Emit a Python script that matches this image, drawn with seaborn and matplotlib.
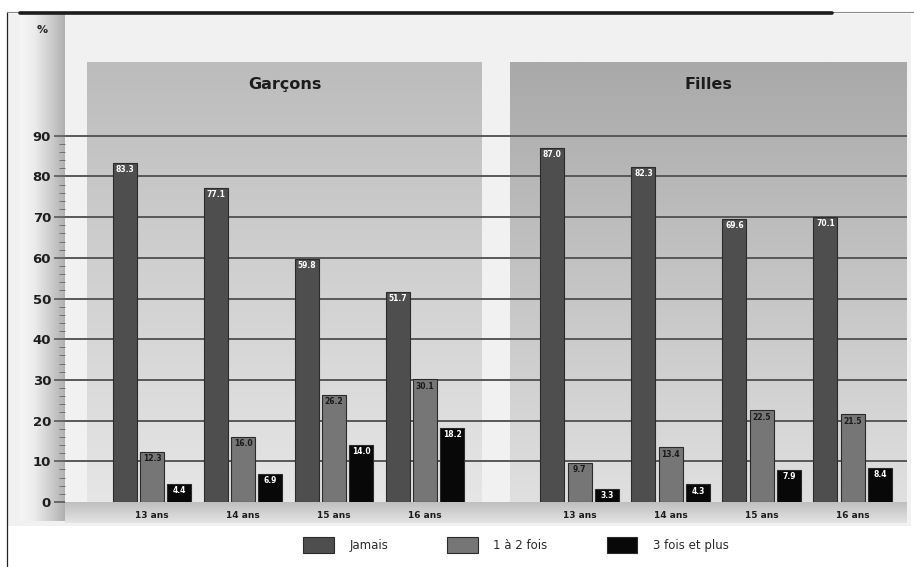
import numpy as np
import pandas as pd
import matplotlib
matplotlib.use("Agg")
import matplotlib.pyplot as plt
from matplotlib.colors import LinearSegmentedColormap
from matplotlib.lines import Line2D
import seaborn as sns

# --- data -------------------------------------------------------------
groups = ["Garçons", "Filles"]
ages = ["13 ans", "14 ans", "15 ans", "16 ans"]
frequencies = ["Jamais", "1 à 2 fois", "3 fois et plus"]

garcons_jamais = [83.3, 77.1, 59.8, 51.7]
garcons_1a2 = [12.3, 16.0, 26.2, 30.1]
garcons_3plus = [4.4, 6.9, 14.0, 18.2]

filles_jamais = [87.0, 82.3, 69.6, 70.1]
filles_1a2 = [9.7, 13.4, 22.5, 21.5]
filles_3plus = [3.3, 4.3, 7.9, 8.4]

y_ticks = [0, 10, 20, 30, 40, 50, 60, 70, 80, 90]

# --- layout / style ---------------------------------------------------
W, H = 914, 567
GROUP_GAP = 0.7
colors = {"Jamais": "#4e4e4e", "1 à 2 fois": "#767676", "3 fois et plus": "#080808"}
text_colors = {"Jamais": "white", "1 à 2 fois": "#1a1a1a", "3 fois et plus": "white"}
FONT = ["DejaVu Sans"]

series = {
    "Garçons": [garcons_jamais, garcons_1a2, garcons_3plus],
    "Filles": [filles_jamais, filles_1a2, filles_3plus],
}

rows = []
for gi, g in enumerate(groups):
    for fi, f in enumerate(frequencies):
        for ai, a in enumerate(ages):
            rows.append({"groupe": g, "age": a, "frequence": f,
                         "pos": ai + gi * (len(ages) + GROUP_GAP),
                         "pct": series[g][fi][ai]})
df = pd.DataFrame(rows)
centers = sorted(df["pos"].unique())

sns.set_theme(style="white")
plt.rcParams["font.family"] = FONT


def box(x0, y0, x1, y1):
    """Pixel box (top-left origin) -> figure fraction rect."""
    return [x0 / W, 1 - y1 / H, (x1 - x0) / W, (y1 - y0) / H]


def gradient(ax, extent, stops, vertical=True, zorder=0):
    cmap = LinearSegmentedColormap.from_list("g", stops)
    g = np.linspace(0, 1, 256)
    arr = g.reshape(-1, 1) if vertical else g.reshape(1, -1)
    ax.imshow(arr, cmap=cmap, extent=extent, aspect="auto", origin="upper",
              zorder=zorder, interpolation="bilinear")


fig = plt.figure(figsize=(W / 100, H / 100), dpi=100)
fig.patch.set_facecolor("white")

# light background of the chart area
bg = fig.add_axes(box(7, 14, 911, 526), zorder=-3)
bg.set_facecolor("#f1f1f1")
bg.set_xticks([]); bg.set_yticks([])
for s in bg.spines.values():
    s.set_visible(False)

# shaded strip behind the y axis
strip = fig.add_axes(box(20, 14, 65, 521), zorder=-2)
gradient(strip, (0, 1, 0, 1), ["#f6f6f6", "#ebebeb", "#cfcfcf", "#b0b0b0"], vertical=False)
strip.set_xlim(0, 1); strip.set_ylim(0, 1)
strip.axis("off")

# shaded band under the x axis
band = fig.add_axes(box(65, 502, 907, 523), zorder=-2)
gradient(band, (0, 1, 0, 1), ["#bfbfbf", "#e4e4e4"])
band.set_xlim(0, 1); band.set_ylim(0, 1)
band.axis("off")

# main plot
ax = fig.add_axes(box(65, 14, 907, 502), zorder=1)
ax.set_facecolor("none")

x_left = centers[0] - (152 - 65) / 91
x_right = centers[0] + (907 - 152) / 91
y_top = (502 - 14) / 4.07
panel_top = (502 - 62) / 4.07

panels = [
    ("Garçons", centers[0] - 0.71, centers[3] + 0.63, "#bcbcbc", "#e6e6e6"),
    ("Filles", centers[4] - 0.77, centers[7] + 0.59, "#a9a9a9", "#e0e0e0"),
]
for name, x0, x1, ctop, cbot in panels:
    gradient(ax, (x0, x1, 0, panel_top), [ctop, cbot], zorder=0.2)
    ax.text((x0 + x1) / 2, panel_top - 5.6, name, ha="center", va="center",
            fontsize=11.5, fontweight="bold", color="#1c1c1c", zorder=4)

for yv in y_ticks[1:]:
    ax.axhline(yv, color="#585858", lw=1.4, zorder=1.5)

sns.barplot(data=df, x="pos", y="pct", hue="frequence", hue_order=frequencies,
            palette=colors, native_scale=True, width=0.9, gap=0.12,
            edgecolor="#2b2b2b", linewidth=0.8, errorbar=None, ax=ax, zorder=3)

for cont, f in zip(ax.containers, frequencies):
    for bar in cont:
        h = bar.get_height()
        ax.annotate(f"{h:.1f}", (bar.get_x() + bar.get_width() / 2, h),
                    xytext=(0, -1.5), textcoords="offset points",
                    ha="center", va="top", fontsize=5.5, fontweight="bold",
                    color=text_colors[f], zorder=5)

handles, labels = ax.get_legend_handles_labels()
ax.get_legend().remove()

ax.set_xlim(x_left, x_right)
ax.set_ylim(0, y_top)
ax.set_xlabel(""); ax.set_ylabel("")
ax.set_xticks(centers, ages * 2)
ax.tick_params(axis="x", length=0, pad=6.3, labelsize=6.5, labelcolor="#1c1c1c")
for t in ax.get_xticklabels():
    t.set_fontweight("bold")

ax.set_yticks(y_ticks)
ax.set_yticks(np.arange(0, 92, 2), minor=True)
ax.tick_params(axis="y", which="major", left=True, length=8, width=1.2,
               color="#585858", pad=2, labelsize=9.5, labelcolor="#1e1e1e")
ax.tick_params(axis="y", which="minor", left=True, length=4, width=0.7, color="#707070")
for t in ax.get_yticklabels():
    t.set_fontweight("bold")
for s in ax.spines.values():
    s.set_visible(False)

fig.text(42 / W, 1 - 30 / H, "%", ha="center", va="center", fontsize=8,
         fontweight="bold", color="#222222")

# frame lines
fig.add_artist(Line2D([7 / W, 7 / W], [1 - 12 / H, 0], lw=0.9, color="#222222"))
fig.add_artist(Line2D([7 / W, 1], [1 - 12 / H, 1 - 12 / H], lw=0.8, color="#8a8a8a"))
fig.add_artist(Line2D([20 / W, 832 / W], [1 - 13 / H, 1 - 13 / H], lw=2.6, color="#1c1c1c"))

leg = fig.legend(handles, labels, loc="center", bbox_to_anchor=(516 / W, 1 - 545 / H),
                 ncol=3, frameon=False, handlelength=2.6, handleheight=1.7,
                 handletextpad=1.3, columnspacing=5.0, prop={"size": 8.5})
for t in leg.get_texts():
    t.set_color("#2a2a2a")

fig.savefig("out.png", dpi=100)
